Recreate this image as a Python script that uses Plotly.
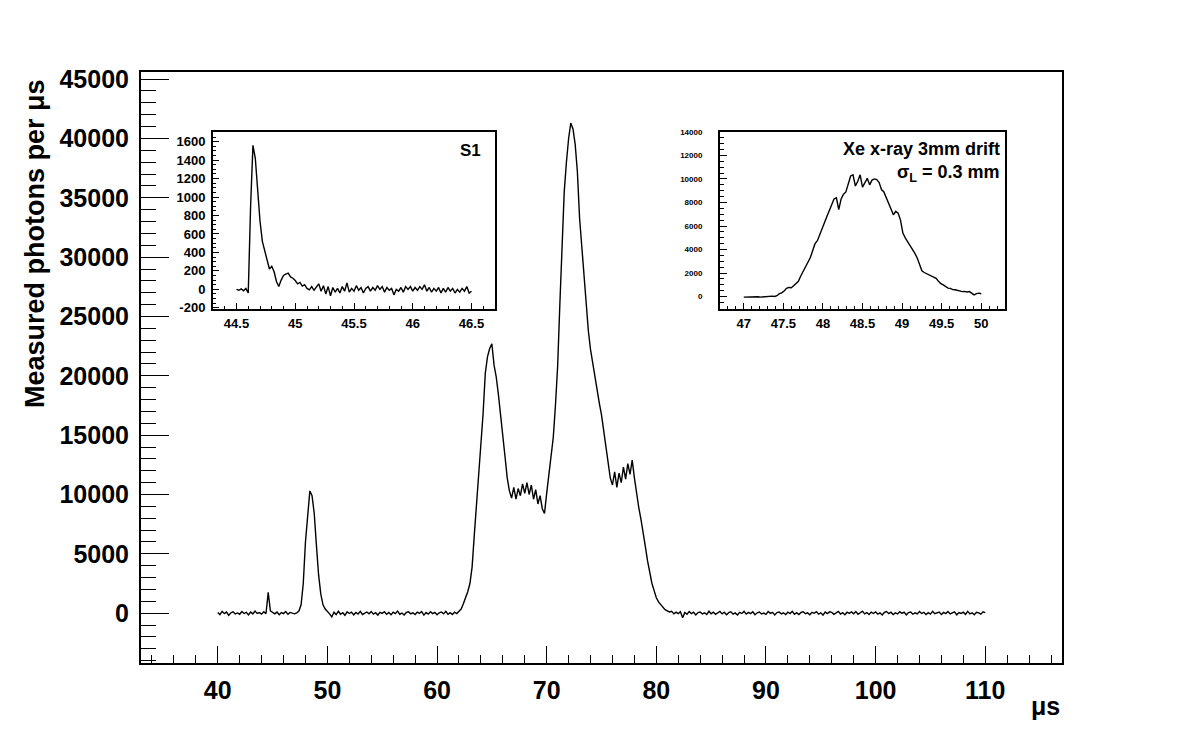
import plotly.graph_objects as go

# ---------------- data ----------------
# main waveform: sampled every 0.2 us from 40.0 to 110.0 us
main_t_start = 40.0
main_t_step = 0.2
main_counts = [
    60, -120, 150, -40, 90, -180, 30, 110, -70, 20,
    -90, 140, -30, 70, -150, 100, -60, 180, -20, 50,
    -80, 120, -50, 1750, 200, 60, -60, 90, -130, 40,
    -40, 130, -100, 60, -20, -60, 20, 180, 700, 2500,
    6000, 8200, 10300, 9900, 8400, 5700, 3200, 1600, 700, 350,
    180, -60, -320, 80, -120, 160, -90, 40, -180, 110,
    -30, 90, -140, 60, -70, 150, -110, 20, 100, -50,
    130, -80, 40, -160, 70, -20, 120, -100, 50, -130,
    80, -40, 170, -90, 10, -150, 60, 110, -60, 30,
    -110, 90, -20, 140, -170, 50, -80, 120, -40, 70,
    -140, 30, 100, -60, 150, -90, 40, -120, 80, -30,
    120, 350, 800, 1300, 1800, 2500, 3900, 6600, 9200, 11600,
    13800, 16800, 20200, 21600, 22300, 22700, 20900, 19900, 18400, 16800,
    15000, 13200, 11400, 10300, 9700, 10600, 9600, 10500, 9900, 10900,
    10100, 11000, 10000, 10800, 9600, 10400, 9200, 9900, 8800, 8400,
    10100, 11800, 13300, 14800, 17500, 20800, 26000, 31500, 35500, 38000,
    40000, 41300, 40800, 39500, 37200, 33300, 30800, 28000, 26000, 23800,
    22200, 21000, 20000, 18700, 17700, 16700, 15400, 14300, 12800, 11400,
    10800, 11900, 10600, 11800, 11000, 12300, 11300, 12600, 11700, 12900,
    11400, 10000, 8900, 7900, 6900, 5600, 4400, 3300, 2500, 1900,
    1300, 950, 700, 450, 300, 200, 100, 160, -60, 90,
    -40, 120, -380, 60, -90, 140, -30, 80, -150, 50,
    100, -70, 30, -120, 160, -50, 90, -100, 20, 140,
    -60, 80, -140, 40, 110, -90, 20, -160, 70, -30,
    150, -80, 60, -40, 120, -130, 30, 90, -70, 10,
    -100, 140, -20, 70, -150, 50, 100, -60, 30, -120,
    80, -30, 160, -90, 40, -110, 60, 120, -50, 20,
    -140, 70, -10, 130, -80, 30, -160, 90, -40, 110,
    60, -100, 20, 150, -70, 40, -130, 80, -20, 100,
    -50, 130, -90, 10, 170, -60, 50, -120, 90, -30,
    110, -80, 30, -150, 60, 140, -40, 80, -110, 20,
    -70, 120, -20, 90, -140, 50, 100, -90, 30, -60,
    140, -30, 70, -120, 40, -80, 160, -50, 10, 90,
    -110, 60, -40, 130, -70, 20, 110, -140, 50, -20,
    80, -100, 150, -60, 30, -130, 70, 20, -90, 110,
    40,
]

# S1 inset: sampled every 0.02 us from 44.50 to 46.50 us
s1_t_start = 44.50
s1_t_step = 0.02
s1_counts = [
    0, -10, 5, -15, 10, -40, 900, 1560, 1420, 1060,
    740, 520, 410, 300, 220, 250, 190, 85, 30, 100,
    150, 165, 175, 135, 120, 95, 60, 75, 35, 50,
    10, -5, 30, -10, 20, 60, -20, 40, -50, 30,
    -70, 20, -30, 10, -40, 30, -20, 70, -30, 10,
    -20, 40, -10, 20, -40, 10, 30, -20, 20, -10,
    40, 0, 30, -30, 20, -10, 10, -60, 0, -20,
    20, -30, 30, 0, 30, -20, 20, -10, 30, 0,
    50, -20, 20, -30, 10, -20, 20, -40, 10, -30,
    20, -20, 10, -40, 0, -30, 10, -20, 30, -40,
    -20,
]

# Xe x-ray inset: sampled every 0.03 us from 47.00 to 50.00 us
xe_t_start = 47.00
xe_t_step = 0.03
xe_counts = [
    -40, -30, -50, -20, -40, -30, -10, -40, -20, 0,
    -30, 20, 40, 10, 80, 250, 320, 480, 700, 780,
    750, 920, 1150, 1300, 1750, 2150, 2500, 2950, 3300, 3900,
    4500, 4750, 5300, 5700, 6300, 6800, 7300, 7850, 8300, 8400,
    7400, 8300, 8700, 8900, 9600, 10250, 10350, 9400, 9800, 10350,
    9300, 9700, 10050, 9500, 9900, 10000, 9950, 9700, 9100, 8900,
    8400, 7900, 7500, 6950, 7250, 7100, 6500, 5400, 5000, 4700,
    4400, 4000, 3700, 3300, 2800, 2200, 2050, 1950, 1850, 1800,
    1650, 1550, 1300, 1100, 1000, 850, 720, 700, 600, 580,
    520, 480, 430, 450, 400, 430, 300, 150, 260, 300,
    250,
]

# tick labels of the S1 inset y axis (ASCII hyphen as in the reference)
s1_yticks = [-200, 0, 200, 400, 600, 800, 1000, 1200, 1400, 1600]
s1_yticklabels = ["-200", "0", "200", "400", "600", "800", "1000", "1200", "1400", "1600"]

main_t = [round(main_t_start + main_t_step * i, 3) for i in range(len(main_counts))]
s1_t = [round(s1_t_start + s1_t_step * i, 3) for i in range(len(s1_counts))]
xe_t = [round(xe_t_start + xe_t_step * i, 3) for i in range(len(xe_counts))]

y_title = "Measured photons per μs"
x_title = "μs"
s1_label = "S1"
xe_label1 = "Xe x-ray 3mm drift"
xe_label2 = "σ<sub>L</sub> = 0.3 mm"

# ---------------- layout geometry ----------------
W, H = 1182, 738
FONT = "Liberation Sans, Arial, Helvetica, sans-serif"


def px_x(x):
    return x / W


def px_y(y):
    return 1 - y / H


fig = go.Figure()
line = dict(color="black", width=1.4)
fig.add_trace(go.Scatter(x=main_t, y=main_counts, mode="lines", line=line,
                         xaxis="x", yaxis="y", showlegend=False, hoverinfo="skip"))
fig.add_trace(go.Scatter(x=s1_t, y=s1_counts, mode="lines", line=line,
                         xaxis="x2", yaxis="y2", showlegend=False, hoverinfo="skip"))
fig.add_trace(go.Scatter(x=xe_t, y=xe_counts, mode="lines", line=line,
                         xaxis="x3", yaxis="y3", showlegend=False, hoverinfo="skip"))


def axis(domain, rng, dtick, minor_dtick, ticklen, minor_len, fsize, standoff,
         anchor, lw=2, **extra):
    d = dict(
        domain=domain, range=rng, autorange=False, dtick=dtick, tick0=0,
        ticks="inside", ticklen=ticklen, tickwidth=1.2, tickcolor="black",
        minor=dict(ticks="inside", ticklen=minor_len, dtick=minor_dtick,
                   tick0=0, tickwidth=1.2, tickcolor="black", showgrid=False),
        showline=True, linecolor="black", linewidth=lw, mirror=True,
        showgrid=False, zeroline=False, anchor=anchor, automargin=False,
        tickfont=dict(family=FONT, size=fsize, color="black", weight="bold"),
        ticklabelstandoff=standoff, fixedrange=True,
    )
    d.update(extra)
    return d


fig.update_layout(
    width=W, height=H, autosize=False,
    margin=dict(l=0, r=0, t=0, b=0, pad=0, autoexpand=False),
    paper_bgcolor="white", plot_bgcolor="white",
    showlegend=False,
    xaxis=axis([px_x(141), px_x(1062)], [33, 117], 10, 2, 17, 8, 25, 4, "y"),
    yaxis=axis([px_y(663), px_y(72)], [-4200, 45600], 5000, 1000, 28, 15, 25, 5, "x",
               tickformat="d"),
    xaxis2=axis([px_x(213), px_x(495)], [44.3, 46.7], 0.5, 0.1, 6, 3, 13, 1, "y2"),
    yaxis2=axis([px_y(309), px_y(132)], [-213, 1705], 200, 50, 6, 3, 13, 3, "x2",
                tickmode="array", tickvals=s1_yticks, ticktext=s1_yticklabels),
    xaxis3=axis([px_x(720), px_x(1005)], [46.7, 50.3], 0.5, 0.1, 6, 3, 13, 1, "y3"),
    yaxis3=axis([px_y(309), px_y(131.5)], [-1050, 14030], 2000, 500, 7, 4, 8, 14, "x3",
                tickformat="d"),
    annotations=[
        dict(text="<b>" + y_title + "</b>", textangle=-90, x=px_x(35), y=px_y(244),
             xref="paper", yref="paper", xanchor="center", yanchor="middle",
             showarrow=False, font=dict(family=FONT, size=27, color="black")),
        dict(text="<b>" + x_title + "</b>", x=px_x(1062), y=px_y(706),
             xref="paper", yref="paper", xanchor="right", yanchor="middle",
             showarrow=False, font=dict(family=FONT, size=25, color="black")),
        dict(text="<b>" + s1_label + "</b>", x=px_x(483), y=px_y(150),
             xref="paper", yref="paper", xanchor="right", yanchor="middle",
             showarrow=False, font=dict(family=FONT, size=17, color="black")),
        dict(text="<b>" + xe_label1 + "</b>", x=px_x(1002), y=px_y(149),
             xref="paper", yref="paper", xanchor="right", yanchor="middle",
             showarrow=False, font=dict(family=FONT, size=18, color="black")),
        dict(text="<b>" + xe_label2 + "</b>", x=px_x(1002), y=px_y(173),
             xref="paper", yref="paper", xanchor="right", yanchor="middle",
             showarrow=False, font=dict(family=FONT, size=18, color="black")),
    ],
)

fig.write_html(
    "out.html", include_plotlyjs=True, config={"displayModeBar": False},
    post_script="document.body.style.margin='0';document.body.style.overflow='hidden';",
)
